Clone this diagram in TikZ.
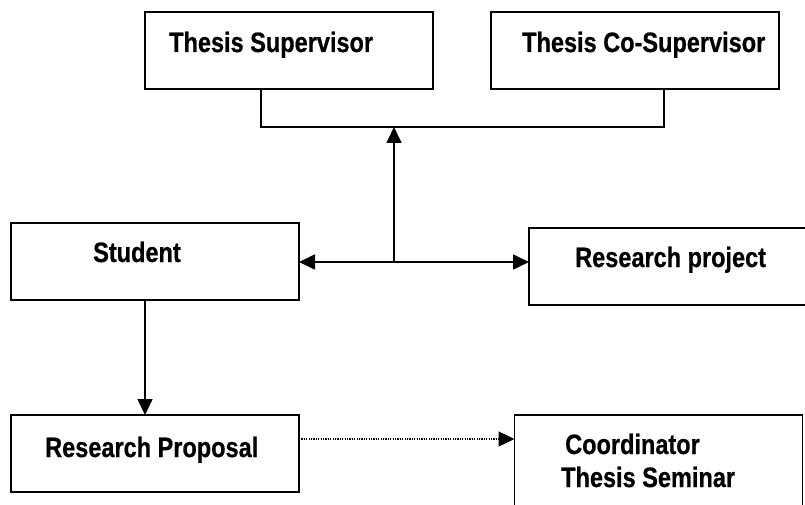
\documentclass[tikz,border=0pt]{standalone}
\usepackage{fontspec}
\newfontfamily\lblfont[FakeStretch=0.84,BoldFeatures={FakeBold=0.6}]{Liberation Sans}
\usetikzlibrary{arrows.meta}

\begin{document}
\begin{tikzpicture}[x=1pt,y=-1pt,
  box/.style={draw,line width=1.7pt,inner sep=0pt,outer sep=0pt,
    minimum width=288pt,minimum height=77pt},
  lbl/.style={anchor=base west,inner sep=0pt,
    font=\lblfont\bfseries\fontsize{28}{32}\selectfont},
  link/.style={line width=1.7pt},
  tipshape/.style={},
  head/.style={-{Triangle[length=16pt,width=15pt]}},
  twoheads/.style={{Triangle[length=16pt,width=15pt]}-{Triangle[length=16pt,width=15pt]}}
]
\clip (0,0) rectangle (805,505);
\fill[white] (0,0) rectangle (805,505);

% boxes
\node[box] (sup)      at (289,50.5)  {};
\node[box] (cosup)    at (635,50.5)  {};
\node[box] (student)  at (155,261.5) {};
\node[box] (project)  at (673,266.5) {};
\node[box] (proposal) at (155,453.5) {};
\node[box,minimum height=100pt] (coord) at (658.5,465) {};

% labels
\node[lbl] (tsup)   at (169,52)  {Thesis Supervisor};
\node[lbl] (tcosup) at (522,52)  {Thesis Co-Supervisor};
\node[lbl] (tstud)  at (93,262)  {Student};
\node[lbl] (tproj)  at (575,267) {Research project};
\node[lbl] (tprop)  at (45,457)  {Research Proposal};
\node[lbl] (tcoo)   at (565,454) {Coordinator};
\node[lbl] (tsem)   at (561,487) {Thesis Seminar};

% connector routing points
\coordinate (bl) at (261,127);
\coordinate (br) at (664,127);
\coordinate (j)  at (394,262);
\coordinate (dn) at (145,0);
\coordinate (dt) at (0,439);

% supervisors joined by a bracket
\draw[link] (sup.south -| bl) -- (bl) -- (br) -- (cosup.south -| br);
% up to the bracket
\draw[link,head] (j) -- (j |- bl);
% student <-> research project
\draw[link,twoheads] (student.east |- j) -- (project.west |- j);
% student -> proposal
\draw[link,head] (student.south -| dn) -- (proposal.north -| dn);
% proposal -> coordinator (dotted)
\draw[line width=1.2pt,dash pattern=on 1.2pt off 1.2pt,head]
  (proposal.east |- dt) -- (coord.west |- dt);
\end{tikzpicture}
\end{document}
